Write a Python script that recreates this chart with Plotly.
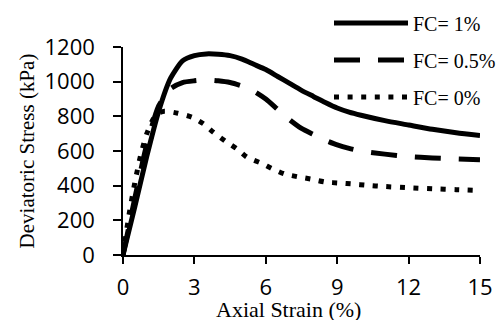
import plotly.graph_objects as go

strain_1 = [0, 0.5, 1.0, 1.5, 2.0, 2.5, 3.0, 3.5, 4.0, 4.5, 5.0, 5.5, 6.0, 6.5, 7.0, 7.5, 8.0, 8.5, 9.0, 9.5, 10, 11, 12, 13, 14, 15]
stress_1 = [0, 280, 570, 830, 1020, 1120, 1150, 1160, 1158, 1150, 1130, 1100, 1070, 1030, 990, 950, 915, 880, 848, 824, 806, 775, 750, 725, 705, 690]

strain_05 = [0, 0.5, 1.0, 1.5, 2.0, 2.5, 3.0, 3.5, 4.0, 4.5, 5.0, 5.5, 6.0, 6.5, 7.0, 7.5, 8.0, 8.5, 9.0, 9.5, 10, 11, 12, 13, 14, 15]
stress_05 = [0, 330, 640, 860, 960, 995, 1005, 1010, 1005, 995, 975, 945, 900, 840, 780, 730, 695, 662, 635, 615, 600, 582, 568, 560, 555, 550]

strain_0 = [0, 0.25, 0.5, 0.75, 1.0, 1.25, 1.5, 1.75, 2.3, 2.9, 3.4, 3.8, 4.3, 4.8, 5.2, 5.8, 6.3, 6.8, 7.4, 7.9, 8.5, 9.1, 9.7, 10.2, 11, 12, 13, 14, 15]
stress_0 = [0, 230, 420, 580, 700, 780, 820, 830, 818, 795, 755, 708, 657, 611, 565, 530, 496, 467, 450, 438, 421, 415, 409, 403, 395, 388, 382, 377, 372]

names = ["FC= 1%", "FC= 0.5%", "FC= 0%"]
x_ticks = [0, 3, 6, 9, 12, 15]
y_ticks = [0, 200, 400, 600, 800, 1000, 1200]
x_title = "Axial Strain (%)"
y_title = "Deviatoric Stress (kPa)"

serif = "Liberation Serif, Times New Roman, serif"
sans = "Open Sans, sans-serif"

fig = go.Figure()
series = [(strain_1, stress_1, "solid", "legend"),
          (strain_05, stress_05, "26px,18px", "legend2"),
          (strain_0, stress_0, "5px,8.6px", "legend3")]
for (x, y, dash, lg), nm in zip(series, names):
    fig.add_trace(go.Scatter(x=x, y=y, mode="lines", name=nm, legend=lg, showlegend=True,
                             line=dict(color="black", width=5, dash=dash, shape="spline", smoothing=0.6)))

leg_common = dict(font=dict(family=serif, size=20, color="black"), bgcolor="rgba(0,0,0,0)",
                  itemwidth=74, xref="container", yref="container",
                  xanchor="left", yanchor="middle", x=329 / 499, tracegroupgap=0)
fig.update_layout(
    width=499, height=320, showlegend=True,
    margin=dict(l=123, r=19, t=47, b=65, autoexpand=False),
    plot_bgcolor="white", paper_bgcolor="white",
    legend=dict(**leg_common, y=1 - 23 / 320),
    legend2=dict(**leg_common, y=1 - 60 / 320),
    legend3=dict(**leg_common, y=1 - 97 / 320),
    xaxis=dict(range=[0, 15], tickvals=x_ticks, showgrid=False, zeroline=False, automargin=False,
               showline=True, linecolor="black", linewidth=1.5,
               ticks="outside", ticklen=7, tickwidth=1.5, tickcolor="black",
               ticklabelstandoff=5,
               tickfont=dict(family=sans, size=22, color="black")),
    yaxis=dict(range=[0, 1200], tickvals=y_ticks, showgrid=False, zeroline=False, automargin=False,
               showline=True, linecolor="black", linewidth=1.5,
               ticks="outside", ticklen=8, tickwidth=1.5, tickcolor="black",
               ticklabelstandoff=14,
               tickfont=dict(family=sans, size=22, color="black"),
               title=dict(text=y_title, font=dict(family=serif, size=21, color="black"), standoff=4)),
    annotations=[dict(text=x_title, xref="paper", yref="paper", x=(288 - 123) / 357, y=(255 - 309) / 208,
                      xanchor="center", yanchor="middle", showarrow=False,
                      font=dict(family=serif, size=22, color="black"))],
)
fig.write_html("out.html")
